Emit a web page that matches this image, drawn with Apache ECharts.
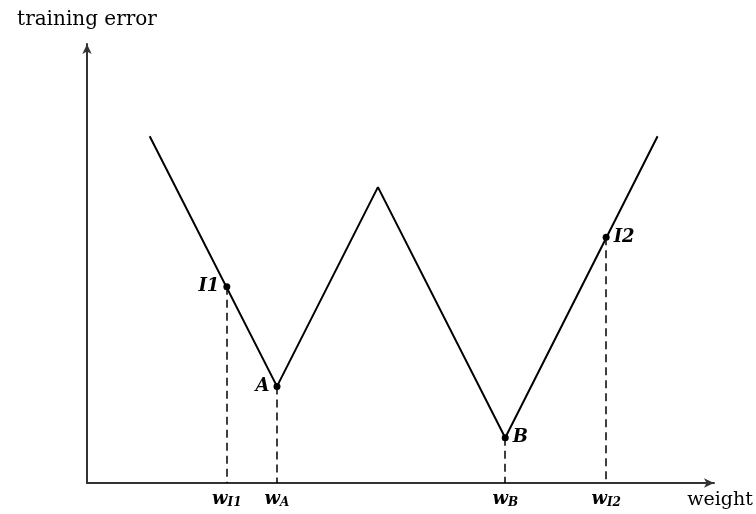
<!DOCTYPE html>
<html>
<head>
<meta charset="utf-8">
<script src="https://cdn.jsdelivr.net/npm/echarts@6/dist/echarts.min.js"></script>
<style>
html, body { margin: 0; padding: 0; background: #fff; }
#chart { width: 756px; height: 514px; }
</style>
</head>
<body>
<div id="chart"></div>
<script>
// the W shaped error curve
var curveX = [10, 30.3, 46.4, 66.7, 91];
var curveY = [79, 22, 67.4, 10.3, 79];

// marked points
var pointNames = ['I1', 'A', 'B', 'I2'];
var pointX = [22.3, 30.3, 66.7, 82.8];
var pointY = [44.7, 22, 10.3, 56];
var labelSide = ['left', 'left', 'right', 'right'];

var serif = 'DejaVu Serif';

function init() {
    var chart = echarts.init(document.getElementById('chart'));

    var curve = [];
    for (var i = 0; i < curveX.length; i++) {
        curve.push([curveX[i], curveY[i]]);
    }
    var pts = [];
    var drops = [];
    for (var j = 0; j < pointX.length; j++) {
        pts.push({
            value: [pointX[j], pointY[j]],
            name: pointNames[j],
            label: { position: labelSide[j] }
        });
        drops.push([{ coord: [pointX[j], pointY[j]] }, { coord: [pointX[j], 0] }]);
    }

    var option = {
        animation: false,
        grid: { left: 87, right: 42, top: 44, bottom: 31 },
        xAxis: {
            type: 'value',
            min: 0,
            max: 100,
            splitLine: { show: false },
            axisTick: { show: false },
            axisLine: {
                lineStyle: { color: '#333', width: 2 },
                symbol: ['none', 'arrow'],
                symbolSize: [7, 10]
            },
            axisLabel: {
                customValues: pointX,
                margin: 6,
                formatter: function (v) {
                    var k = pointX.indexOf(v);
                    return '{w|w}{s|' + pointNames[k] + '}';
                },
                rich: {
                    w: { fontFamily: serif, fontStyle: 'italic', fontWeight: 'bold', fontSize: 18, color: '#000' },
                    s: { fontFamily: serif, fontStyle: 'italic', fontWeight: 'bold', fontSize: 12, color: '#000', padding: [8, 0, 0, 0] }
                }
            },
            name: 'weight',
            nameLocation: 'end',
            nameGap: 6,
            nameTextStyle: {
                fontFamily: serif, fontSize: 19, color: '#000',
                align: 'center', verticalAlign: 'top', padding: [8, 0, 0, 0]
            }
        },
        yAxis: {
            type: 'value',
            min: 0,
            max: 100,
            splitLine: { show: false },
            axisTick: { show: false },
            axisLabel: { show: false },
            axisLine: {
                lineStyle: { color: '#333', width: 2 },
                symbol: ['none', 'arrow'],
                symbolSize: [7, 10]
            },
            name: 'training error',
            nameLocation: 'end',
            nameGap: 14,
            nameTextStyle: { fontFamily: serif, fontSize: 20, color: '#000', align: 'center' }
        },
        series: [
            {
                type: 'line',
                data: curve,
                symbol: 'none',
                lineStyle: { color: '#000', width: 2 },
                z: 2
            },
            {
                type: 'scatter',
                data: pts,
                symbolSize: 7,
                itemStyle: { color: '#000', opacity: 1 },
                label: {
                    show: true,
                    formatter: '{b}',
                    fontFamily: serif,
                    fontStyle: 'italic',
                    fontWeight: 'bold',
                    fontSize: 18,
                    color: '#000',
                    distance: 4
                },
                markLine: {
                    silent: true,
                    symbol: 'none',
                    label: { show: false },
                    lineStyle: { color: '#000', type: [8, 5], width: 1.5, opacity: 1 },
                    data: drops
                },
                z: 3
            }
        ]
    };
    chart.setOption(option);
}

init();
</script>
</body>
</html>
